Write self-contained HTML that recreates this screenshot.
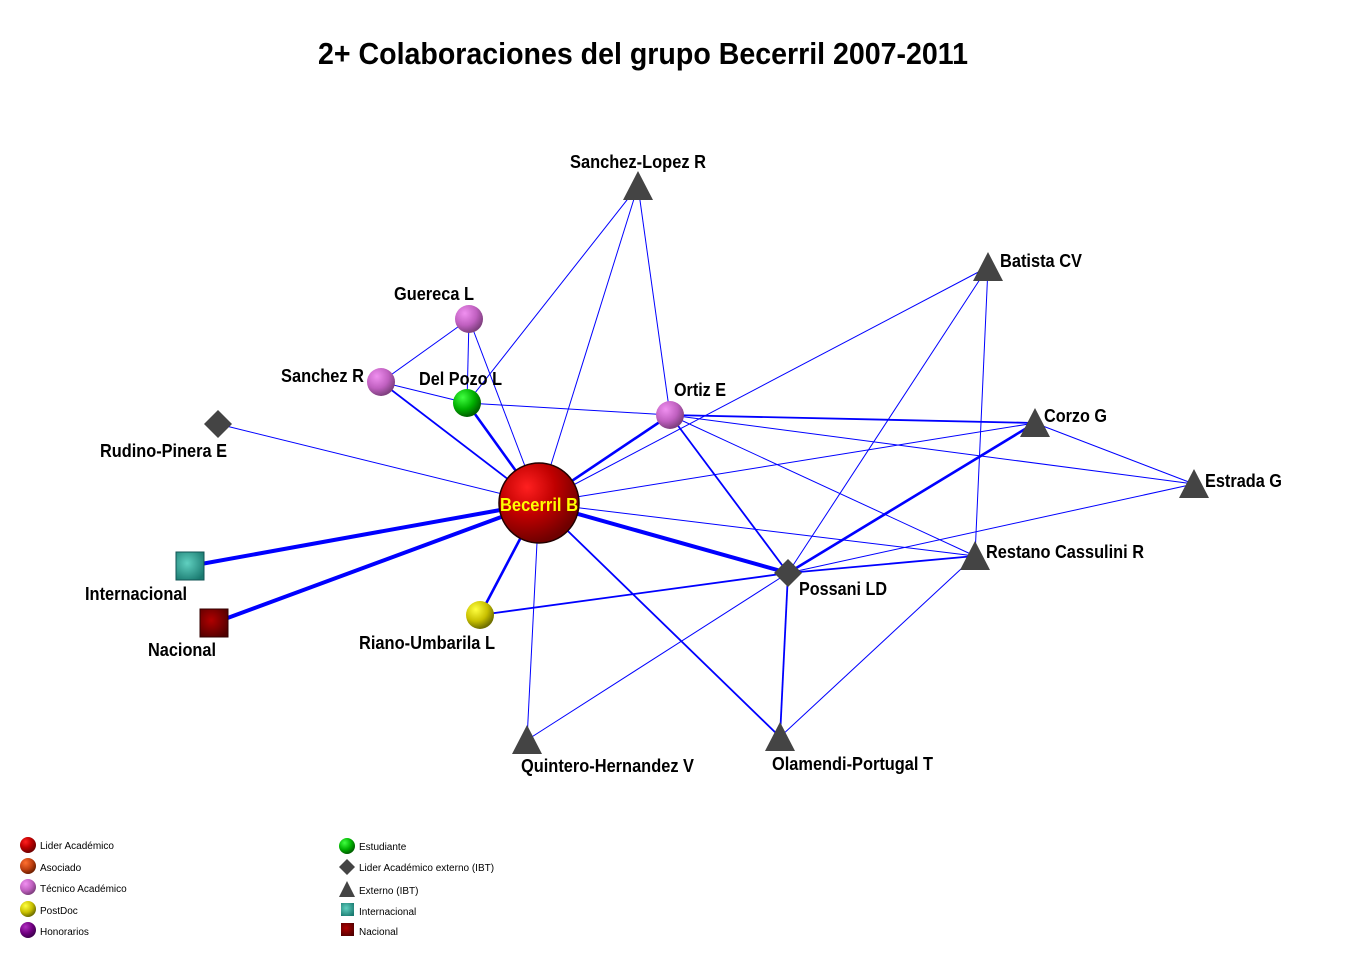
<!DOCTYPE html>
<html><head><meta charset="utf-8"><style>
body{margin:0;background:#fff;}
svg text{font-family:"Liberation Sans",sans-serif;}
</style></head><body>
<svg width="1350" height="950" viewBox="0 0 1350 950" xmlns="http://www.w3.org/2000/svg">
<defs>
<radialGradient id="gRed" cx="35%" cy="30%" r="70%"><stop offset="0" stop-color="#ff2020"/><stop offset="0.5" stop-color="#c00000"/><stop offset="1" stop-color="#700000"/></radialGradient>
<radialGradient id="gPur" cx="35%" cy="30%" r="70%"><stop offset="0" stop-color="#f090f0"/><stop offset="0.6" stop-color="#c060c0"/><stop offset="1" stop-color="#804080"/></radialGradient>
<radialGradient id="gGrn" cx="35%" cy="30%" r="70%"><stop offset="0" stop-color="#40ff40"/><stop offset="0.6" stop-color="#00b000"/><stop offset="1" stop-color="#006000"/></radialGradient>
<radialGradient id="gYel" cx="35%" cy="30%" r="70%"><stop offset="0" stop-color="#ffff40"/><stop offset="0.6" stop-color="#c8c000"/><stop offset="1" stop-color="#707000"/></radialGradient>
<radialGradient id="gOra" cx="35%" cy="30%" r="70%"><stop offset="0" stop-color="#ff7030"/><stop offset="0.6" stop-color="#c04010"/><stop offset="1" stop-color="#702000"/></radialGradient>
<radialGradient id="gVio" cx="35%" cy="30%" r="70%"><stop offset="0" stop-color="#b030c0"/><stop offset="0.6" stop-color="#700080"/><stop offset="1" stop-color="#400050"/></radialGradient>
<radialGradient id="gTeal" cx="40%" cy="40%" r="70%"><stop offset="0" stop-color="#60d0c0"/><stop offset="1" stop-color="#1a7a70"/></radialGradient>
<radialGradient id="gMar" cx="40%" cy="40%" r="70%"><stop offset="0" stop-color="#b00000"/><stop offset="1" stop-color="#500000"/></radialGradient>
</defs>
<text x="318" y="64" font-size="31" font-weight="bold" textLength="650" lengthAdjust="spacingAndGlyphs">2+ Colaboraciones del grupo Becerril 2007-2011</text>
<g stroke="#0000ff" fill="none">
<g stroke-width="1">
<line x1="469" y1="319" x2="381" y2="382"/>
<line x1="469" y1="319" x2="467" y2="403"/>
<line x1="469" y1="319" x2="539" y2="503"/>
<line x1="381" y1="382" x2="467" y2="403"/>
<line x1="467" y1="403" x2="670" y2="415"/>
<line x1="467" y1="403" x2="638" y2="186"/>
<line x1="638" y1="186" x2="539" y2="503"/>
<line x1="638" y1="186" x2="670" y2="415"/>
<line x1="218" y1="424" x2="539" y2="503"/>
<line x1="539" y1="503" x2="988" y2="267"/>
<line x1="539" y1="503" x2="1035" y2="423"/>
<line x1="539" y1="503" x2="975" y2="556"/>
<line x1="539" y1="503" x2="527" y2="740"/>
<line x1="670" y1="415" x2="1194" y2="484"/>
<line x1="670" y1="415" x2="975" y2="556"/>
<line x1="788" y1="573" x2="988" y2="267"/>
<line x1="788" y1="573" x2="1194" y2="484"/>
<line x1="788" y1="573" x2="527" y2="740"/>
<line x1="988" y1="267" x2="975" y2="556"/>
<line x1="1035" y1="423" x2="1194" y2="484"/>
<line x1="975" y1="556" x2="780" y2="737"/>
</g>
<g stroke-width="1.8">
<line x1="381" y1="382" x2="539" y2="503"/>
<line x1="670" y1="415" x2="1035" y2="423"/>
<line x1="670" y1="415" x2="788" y2="573"/>
<line x1="788" y1="573" x2="975" y2="556"/>
<line x1="788" y1="573" x2="480" y2="615"/>
<line x1="788" y1="573" x2="780" y2="737"/>
<line x1="539" y1="503" x2="780" y2="737"/>
</g>
<g stroke-width="2.6">
<line x1="467" y1="403" x2="539" y2="503"/>
<line x1="539" y1="503" x2="670" y2="415"/>
<line x1="539" y1="503" x2="480" y2="615"/>
<line x1="788" y1="573" x2="1035" y2="423"/>
</g>
<g stroke-width="4">
<line x1="190" y1="566" x2="539" y2="503"/>
<line x1="214" y1="623" x2="539" y2="503"/>
<line x1="539" y1="503" x2="788" y2="573"/>
</g>
</g>
<circle cx="539" cy="503" r="40" fill="url(#gRed)" stroke="#200" stroke-width="1.5"/>
<circle cx="469" cy="319" r="14" fill="url(#gPur)"/>
<circle cx="381" cy="382" r="14" fill="url(#gPur)"/>
<circle cx="670" cy="415" r="14" fill="url(#gPur)"/>
<circle cx="467" cy="403" r="14" fill="url(#gGrn)"/>
<circle cx="480" cy="615" r="14" fill="url(#gYel)"/>
<g fill="#444">
<polygon points="218,410 232,424 218,438 204,424"/>
<polygon points="788,559 802,573 788,587 774,573"/>
<polygon points="638,171 653,200 623,200"/>
<polygon points="988,252 1003,281 973,281"/>
<polygon points="1035,408 1050,437 1020,437"/>
<polygon points="1194,469 1209,498 1179,498"/>
<polygon points="975,541 990,570 960,570"/>
<polygon points="527,725 542,754 512,754"/>
<polygon points="780,722 795,751 765,751"/>
</g>
<rect x="176" y="552" width="28" height="28" fill="url(#gTeal)" stroke="#155"/>
<rect x="200" y="609" width="28" height="28" fill="url(#gMar)" stroke="#300"/>
<g font-size="18" font-weight="bold" fill="#000" lengthAdjust="spacingAndGlyphs">
<text x="500" y="511" fill="#ffff00" textLength="78" lengthAdjust="spacingAndGlyphs">Becerril B</text>
<text x="394" y="300" textLength="80" lengthAdjust="spacingAndGlyphs">Guereca L</text>
<text x="281" y="382" textLength="83" lengthAdjust="spacingAndGlyphs">Sanchez R</text>
<text x="419" y="385" textLength="83" lengthAdjust="spacingAndGlyphs">Del Pozo L</text>
<text x="674" y="396" textLength="52" lengthAdjust="spacingAndGlyphs">Ortiz E</text>
<text x="570" y="168" textLength="136" lengthAdjust="spacingAndGlyphs">Sanchez-Lopez R</text>
<text x="1000" y="267" textLength="82" lengthAdjust="spacingAndGlyphs">Batista CV</text>
<text x="1044" y="422" textLength="63" lengthAdjust="spacingAndGlyphs">Corzo G</text>
<text x="1205" y="487" textLength="77" lengthAdjust="spacingAndGlyphs">Estrada G</text>
<text x="986" y="558" textLength="158" lengthAdjust="spacingAndGlyphs">Restano Cassulini R</text>
<text x="799" y="595" textLength="88" lengthAdjust="spacingAndGlyphs">Possani LD</text>
<text x="100" y="457" textLength="127" lengthAdjust="spacingAndGlyphs">Rudino-Pinera E</text>
<text x="85" y="600" textLength="102" lengthAdjust="spacingAndGlyphs">Internacional</text>
<text x="148" y="656" textLength="68" lengthAdjust="spacingAndGlyphs">Nacional</text>
<text x="359" y="649" textLength="136" lengthAdjust="spacingAndGlyphs">Riano-Umbarila L</text>
<text x="521" y="772" textLength="173" lengthAdjust="spacingAndGlyphs">Quintero-Hernandez V</text>
<text x="772" y="770" textLength="161" lengthAdjust="spacingAndGlyphs">Olamendi-Portugal T</text>
</g>
<g font-size="10" fill="#000">
<circle cx="28" cy="845" r="8" fill="url(#gRed)"/><text x="40" y="849">Lider Académico</text>
<circle cx="28" cy="866" r="8" fill="url(#gOra)"/><text x="40" y="871">Asociado</text>
<circle cx="28" cy="887" r="8" fill="url(#gPur)"/><text x="40" y="892">Técnico Académico</text>
<circle cx="28" cy="909" r="8" fill="url(#gYel)"/><text x="40" y="914">PostDoc</text>
<circle cx="28" cy="930" r="8" fill="url(#gVio)"/><text x="40" y="935">Honorarios</text>
<circle cx="347" cy="846" r="8" fill="url(#gGrn)"/><text x="359" y="850">Estudiante</text>
<polygon points="347,859 355,867 347,875 339,867" fill="#444"/><text x="359" y="871">Lider Académico externo (IBT)</text>
<polygon points="347,881 355,897 339,897" fill="#444"/><text x="359" y="894">Externo (IBT)</text>
<rect x="341" y="903" width="13" height="13" fill="url(#gTeal)"/><text x="359" y="915">Internacional</text>
<rect x="341" y="923" width="13" height="13" fill="url(#gMar)"/><text x="359" y="935">Nacional</text>
</g>
</svg>
</body></html>
